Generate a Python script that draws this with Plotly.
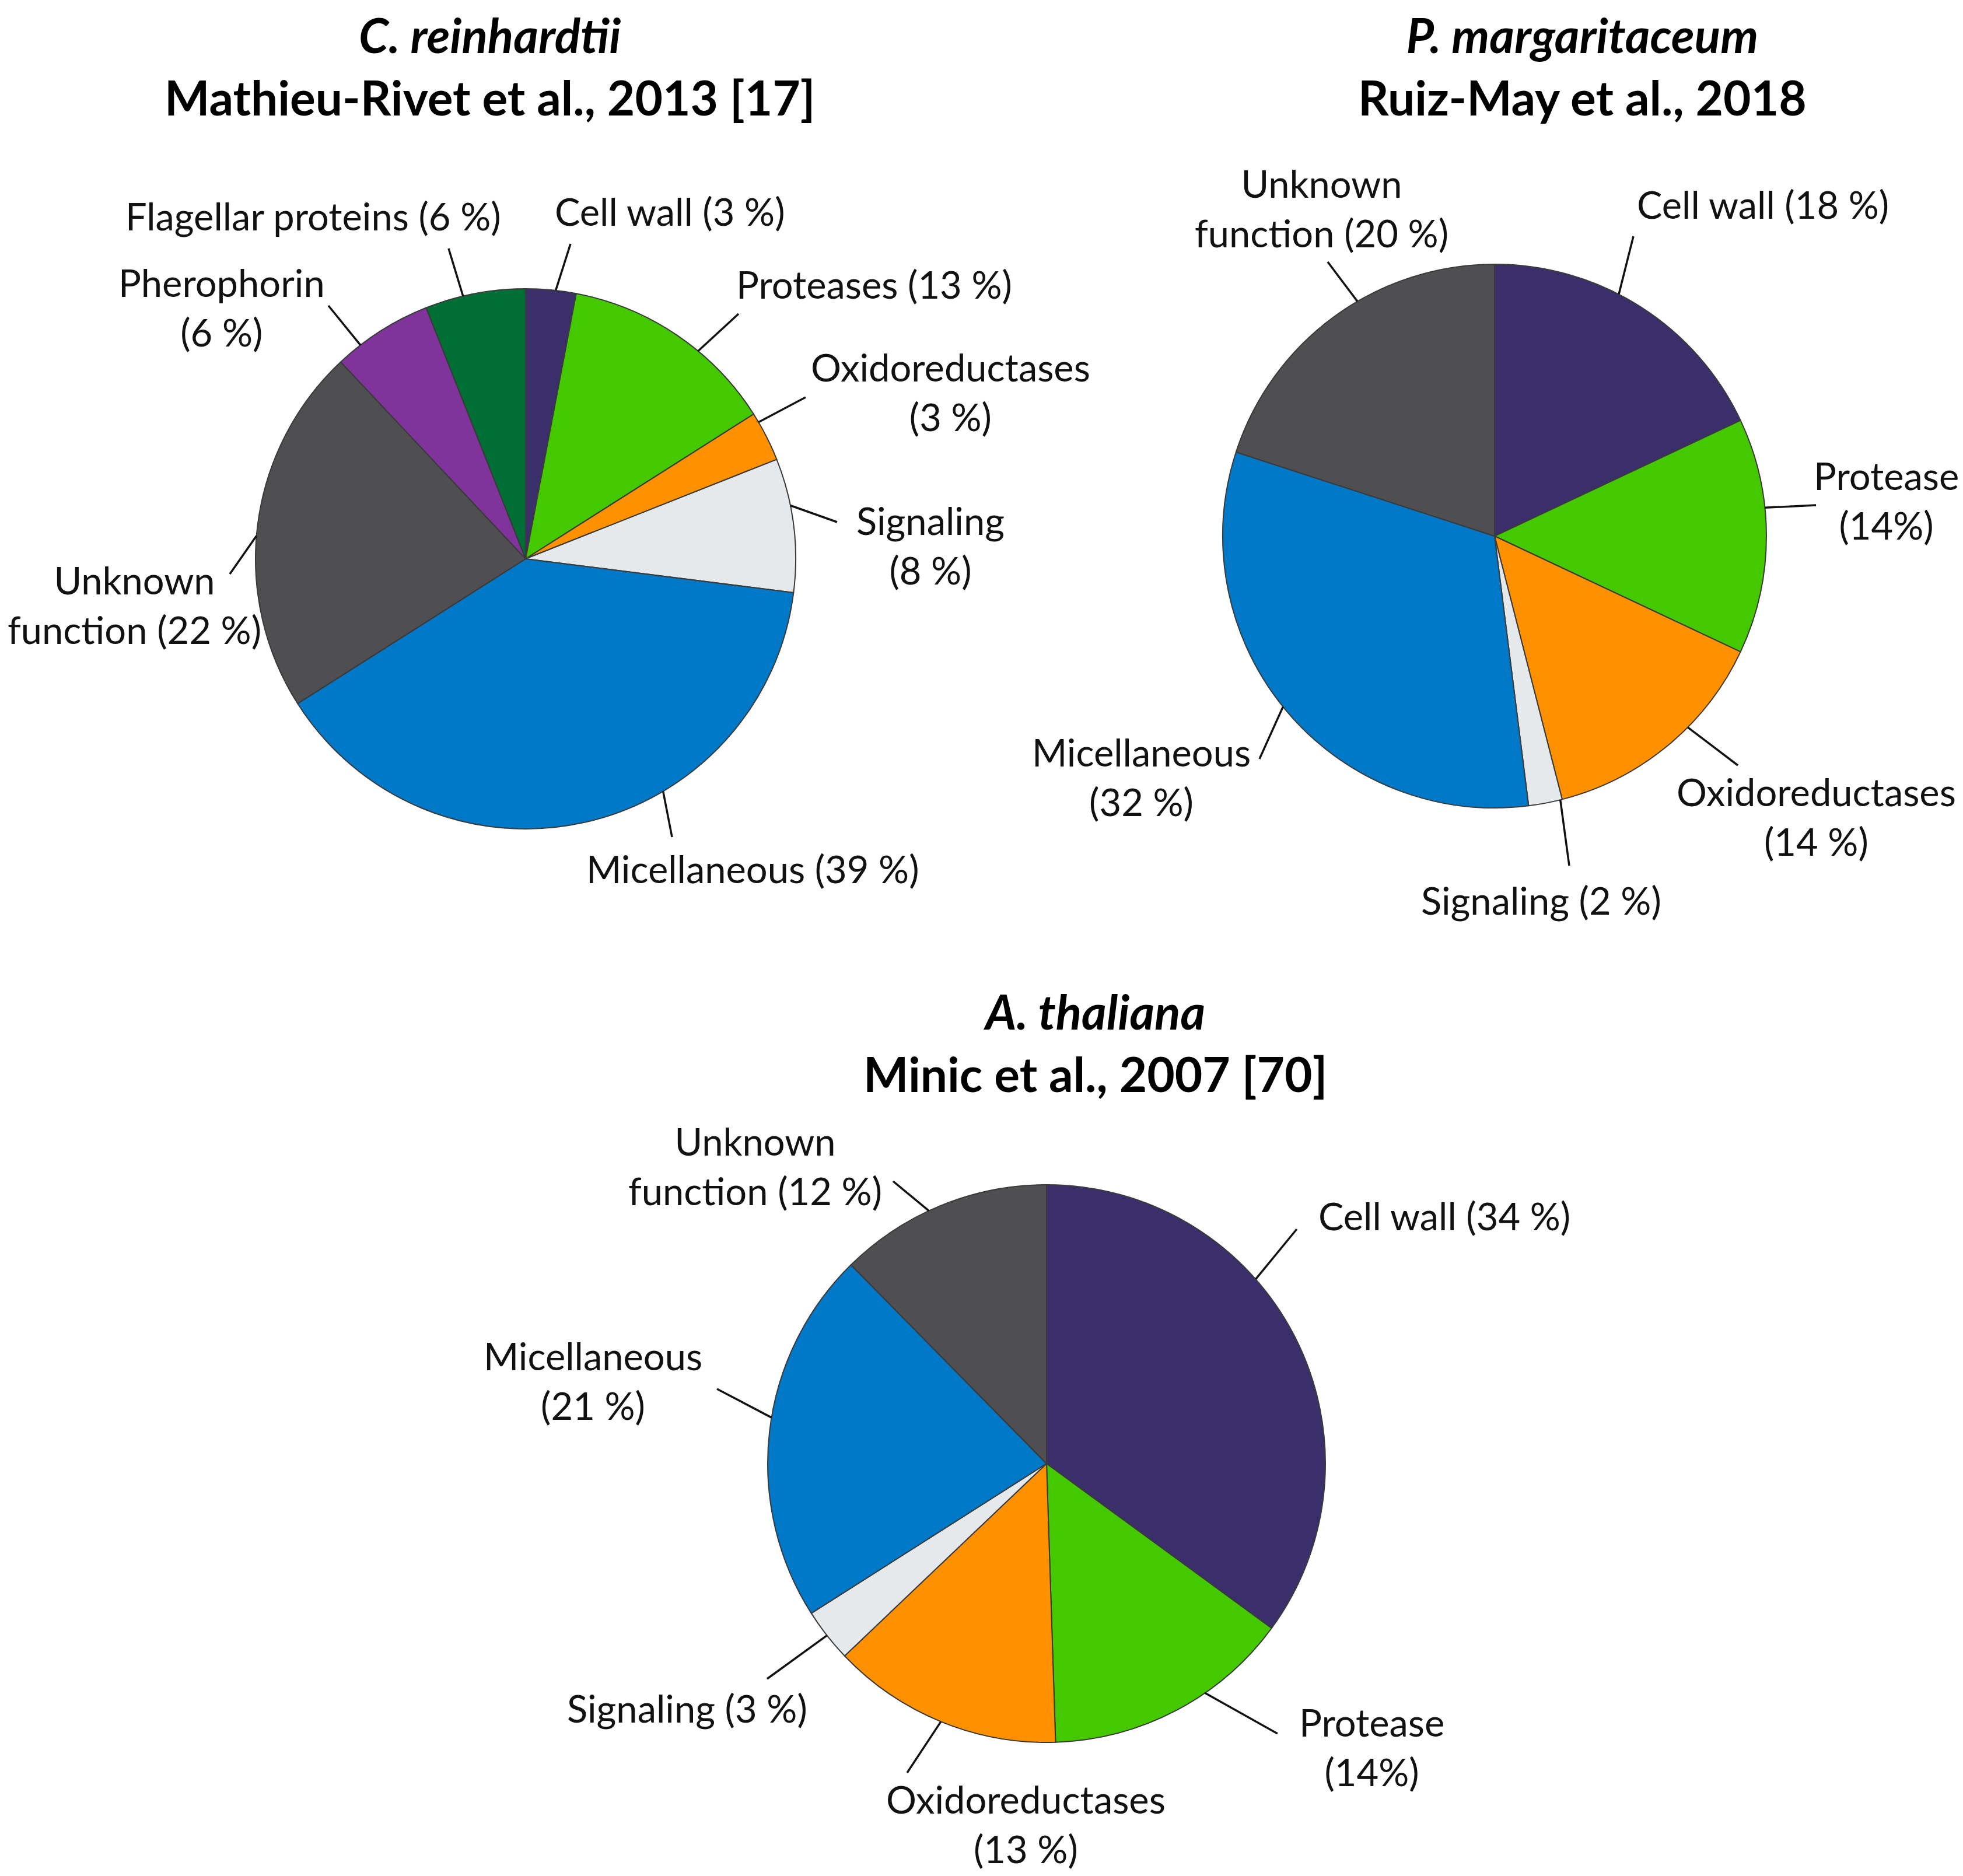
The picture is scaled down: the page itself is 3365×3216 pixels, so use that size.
import math
import plotly.graph_objects as go

W, H = 3365, 3216

# ---- data ----
reinhardtii_labels = ["Cell wall", "Proteases", "Oxidoreductases", "Signaling",
                      "Micellaneous", "Unknown function", "Pherophorin", "Flagellar proteins"]
reinhardtii_values = [3, 13, 3, 8, 39, 22, 6, 6]
reinhardtii_text = ["Cell wall (3 %)", "Proteases (13 %)", "Oxidoreductases<br>(3 %)",
                    "Signaling<br>(8 %)", "Micellaneous (39 %)", "Unknown<br>function (22 %)",
                    "Pherophorin<br>(6 %)", "Flagellar proteins (6 %)"]

margaritaceum_labels = ["Cell wall", "Protease", "Oxidoreductases", "Signaling",
                        "Micellaneous", "Unknown function"]
margaritaceum_values = [18, 14, 14, 2, 32, 20]
margaritaceum_text = ["Cell wall (18 %)", "Protease<br>(14%)", "Oxidoreductases<br>(14 %)",
                      "Signaling (2 %)", "Micellaneous<br>(32 %)", "Unknown<br>function (20 %)"]

thaliana_labels = ["Cell wall", "Protease", "Oxidoreductases", "Signaling",
                   "Micellaneous", "Unknown function"]
thaliana_values = [34, 14, 13, 3, 21, 12]
thaliana_text = ["Cell wall (34 %)", "Protease<br>(14%)", "Oxidoreductases<br>(13 %)",
                 "Signaling (3 %)", "Micellaneous<br>(21 %)", "Unknown<br>function (12 %)"]

colour = {"Cell wall": "#3B2F6B", "Protease": "#44C800", "Proteases": "#44C800",
          "Oxidoreductases": "#FF9100", "Signaling": "#E6E9EB", "Micellaneous": "#0078C8",
          "Unknown function": "#4F4F51", "Pherophorin": "#80349B",
          "Flagellar proteins": "#006F35"}

# ---- layout (pixels in the page) ----
SHIFT = 8      # page body margin
TEXT_DY = -6   # lift text a little to sit like the original
pies = [
    dict(labels=reinhardtii_labels, values=reinhardtii_values, text=reinhardtii_text,
         cx=901, cy=958, r=463,
         label_xy=[(1148, 368), (1498, 493), (1629, 677), (1595, 940), (1290, 1495),
                   (230, 1042), (380, 533), (537, 376)],
         nudge=[1, 5.5, -3.4, -4.2, -18, -2.3, -5.3, -2.6],
         line_end=[(978, 418), (1266, 538), (1381, 681), (1435, 895), (1152, 1435),
                   (394, 984), (563, 524), (769, 426)],
         title="<b><i>C. reinhardtii</i></b><br><b>Mathieu-Rivet et al., 2013 [17]</b>",
         tx=840, ty=None),
    dict(labels=margaritaceum_labels, values=margaritaceum_values, text=margaritaceum_text,
         cx=2562, cy=919, r=466,
         label_xy=[(3022, 356), (3233, 863), (3113, 1406), (2642, 1549), (1956, 1337),
                   (2265, 362)],
         nudge=[-5.2, -6, -5.7, -3.2, 0.7, 5.7],
         line_end=[(2800, 405), (3113, 866), (2979, 1312), (2690, 1484), (2159, 1301),
                   (2276, 449)],
         title="<b><i>P. margaritaceum</i></b><br><b>Ruiz-May et al., 2018</b>",
         tx=2712, ty=None),
    dict(labels=thaliana_labels, values=thaliana_values, text=thaliana_text,
         cx=1794, cy=2509, r=478,
         label_xy=[(2476, 2090), (2351, 3000), (1758, 3132), (1178, 2934), (1016, 2372),
                   (1294, 2004)],
         nudge=[-14.5, -6.8, 0, 0, 3, -2.7],
         line_end=[(2223, 2107), (2190, 2972), (1555, 3039), (1315, 2878), (1229, 2381),
                   (1531, 2025)],
         title="<b><i>A. thaliana</i></b><br><b>Minic et al., 2007 [70]</b>",
         tx=1877, ty=1792),
]

FONT = "Lato, Carlito, Calibri, sans-serif"


def px(x, y):
    return (x - SHIFT) / W, 1 - (y - SHIFT) / H


fig = go.Figure()
annotations, shapes = [], []
for p in pies:
    cx, cy, r = p["cx"], p["cy"], p["r"]
    x0, y1 = px(cx - r, cy - r)
    x1, y0 = px(cx + r, cy + r)
    fig.add_trace(go.Pie(
        labels=p["labels"], values=p["values"], sort=False, direction="clockwise",
        rotation=0, textinfo="none", hoverinfo="label+percent",
        marker=dict(colors=[colour[l] for l in p["labels"]],
                    line=dict(color="#3A3A3A", width=2)),
        domain=dict(x=[x0, x1], y=[y0, y1]),
        showlegend=False,
    ))
    total = sum(p["values"])
    cum = 0
    for v, txt, (lx, ly), dn, (ex, ey) in zip(p["values"], p["text"], p["label_xy"],
                                             p["nudge"], p["line_end"]):
        # leader line starts on the rim near the middle of the slice
        ang = 2 * math.pi * (cum + v / 2) / total + math.radians(dn)
        cum += v
        sx, sy = px(cx + r * math.sin(ang), cy - r * math.cos(ang))
        exn, eyn = px(ex, ey)
        shapes.append(dict(type="line", xref="paper", yref="paper",
                           x0=sx, y0=sy, x1=exn, y1=eyn,
                           line=dict(color="#111111", width=3.5)))
        ax_, ay_ = px(lx, ly + TEXT_DY)
        annotations.append(dict(
            x=ax_, y=ay_, xref="paper", yref="paper", showarrow=False,
            text=txt, align="center", xanchor="center", yanchor="middle",
            font=dict(family=FONT, size=65, color="#111111"),
        ))
    # two-line title
    if p["ty"] is None:
        tx_, ty_, yanch = px(p["tx"], 0)[0], 1, "top"
    else:
        tx_, ty_ = px(p["tx"], p["ty"] + TEXT_DY)
        yanch = "middle"
    annotations.append(dict(
        x=tx_, y=ty_, xref="paper", yref="paper", showarrow=False,
        text=p["title"], align="center", xanchor="center", yanchor=yanch,
        font=dict(family=FONT, size=82, color="#000000"),
    ))

fig.update_layout(
    width=W, height=H, margin=dict(l=0, r=0, t=0, b=0),
    paper_bgcolor="white", plot_bgcolor="white",
    annotations=annotations, shapes=shapes,
)

fig.write_html("out.html")
